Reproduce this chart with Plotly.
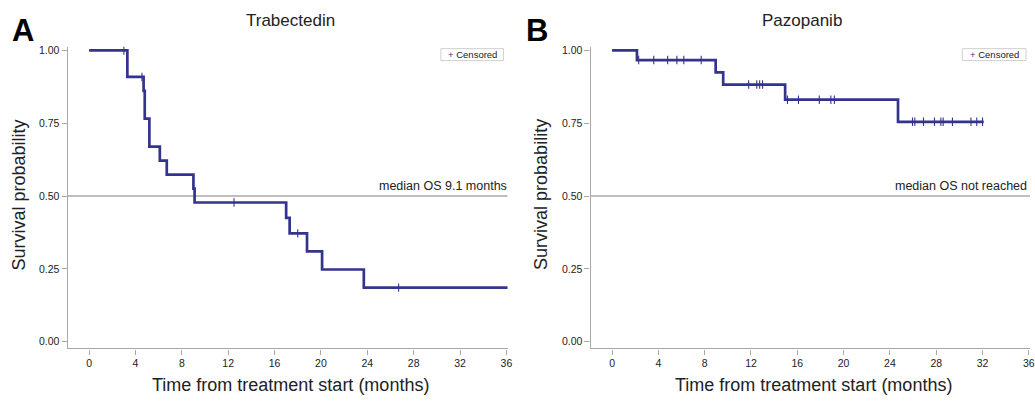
import plotly.graph_objects as go
import numpy as np

# ---------------- data ----------------
# Trabectedin Kaplan-Meier steps
trab_time = [0.0, 3.3, 4.7, 4.8, 5.2, 6.1, 6.7, 9.0, 9.1, 17.0, 17.3, 18.8, 20.1, 23.7]
trab_surv = [1.0, 0.909, 0.861, 0.766, 0.670, 0.622, 0.574, 0.526, 0.478, 0.425, 0.372, 0.310, 0.248, 0.186]
trab_last_followup = 36.4
trab_censor = [3.0, 4.56, 12.5, 18.0, 26.7]

# Pazopanib Kaplan-Meier steps
pazo_time = [0.0, 2.15, 8.95, 9.6, 14.95, 24.7]
pazo_surv = [1.0, 0.967, 0.925, 0.883, 0.831, 0.755]
pazo_last_followup = 32.1
pazo_censor = [2.3, 3.6, 4.8, 5.6, 6.2, 7.7, 11.8, 12.5, 12.75, 13.0,
               15.15, 16.1, 17.9, 18.9, 19.2, 25.95, 26.15, 26.9, 27.85,
               28.4, 28.6, 29.4, 31.0, 31.5, 32.0]

x_ticks = [0, 4, 8, 12, 16, 20, 24, 28, 32, 36]
y_ticks = [0.0, 0.25, 0.5, 0.75, 1.0]

titles = ["Trabectedin", "Pazopanib"]
median_labels = ["median OS 9.1 months", "median OS not reached"]
panel_letters = ["A", "B"]

# ---------------- styling ----------------
LINE = "#34348f"
AXIS = "#a8a8a8"
TXT = "#222222"
FONT = "Liberation Sans, Arial, sans-serif"


def surv_at(times, surv, t):
    idx = np.searchsorted(np.array(times), t, side="right") - 1
    return surv[idx]


fig = go.Figure()

panels = [
    (trab_time, trab_surv, trab_last_followup, trab_censor, "x", "y"),
    (pazo_time, pazo_surv, pazo_last_followup, pazo_censor, "x2", "y2"),
]
for (tt, ss, lf, cens, xa, ya) in panels:
    fig.add_trace(go.Scatter(
        x=list(tt) + [lf], y=list(ss) + [ss[-1]],
        mode="lines", line=dict(color=LINE, width=2.7, shape="hv"),
        xaxis=xa, yaxis=ya, showlegend=False, hoverinfo="skip", cliponaxis=True))
    fig.add_trace(go.Scatter(
        x=cens, y=[surv_at(tt, ss, c) for c in cens],
        mode="markers",
        marker=dict(symbol="line-ns", size=6, color=LINE,
                    line=dict(color=LINE, width=1.1)),
        xaxis=xa, yaxis=ya, showlegend=False, hoverinfo="skip"))

ydom = [0.132, 0.890]
xdomA = [68 / 1035, 510 / 1035]
xdomB = [593.5 / 1035, 1.0]
xrng = [-1.85, 36.1]
yrng = [-0.023, 1.0126]

axis_common = dict(
    showgrid=False, zeroline=False, showline=True, linecolor=AXIS, linewidth=1.3,
    ticks="outside", ticklen=5, tickwidth=1, tickcolor=AXIS,
    tickfont=dict(family=FONT, size=10.5, color=TXT), mirror=False,
)

fig.update_layout(
    width=1035, height=401,
    margin=dict(l=0, r=0, t=0, b=0),
    paper_bgcolor="white", plot_bgcolor="white",
    showlegend=False,
    xaxis=dict(domain=xdomA, range=xrng, tickvals=x_ticks, anchor="y", **axis_common),
    yaxis=dict(domain=ydom, range=yrng, tickvals=y_ticks, tickformat=".2f", anchor="x", **axis_common),
    xaxis2=dict(domain=xdomB, range=xrng, tickvals=x_ticks, anchor="y2", **axis_common),
    yaxis2=dict(domain=ydom, range=yrng, tickvals=y_ticks, tickformat=".2f", anchor="x2", **axis_common),
)

# median reference lines
for xr, yr in [("x domain", "y"), ("x2 domain", "y2")]:
    fig.add_shape(type="line", xref=xr, yref=yr, x0=0, x1=1, y0=0.5, y1=0.5,
                  line=dict(color=AXIS, width=1.5), layer="below")

annos = []
title_x = [292, 806]
letter_x = [23, 540]
ytitle_x = [19, 543]
xtitle_x = [292, 817]
med_right = [511, 1034]
leg_x = [(443, 506), (967, 1031)]
for i in range(2):
    annos.append(dict(text=titles[i], x=title_x[i] / 1035, y=1 - 18 / 401, xref="paper", yref="paper",
                      showarrow=False, xanchor="center", yanchor="middle",
                      font=dict(family=FONT, size=17, color=TXT)))
    annos.append(dict(text="<b>" + panel_letters[i] + "</b>", x=letter_x[i] / 1035, y=1 - 28 / 401,
                      xref="paper", yref="paper", showarrow=False, xanchor="center", yanchor="middle",
                      font=dict(family="Liberation Sans, Arial", size=31, color="black")))
    annos.append(dict(text="Survival probability", x=ytitle_x[i] / 1035, y=1 - 193 / 401,
                      xref="paper", yref="paper", showarrow=False, textangle=-90,
                      xanchor="center", yanchor="middle",
                      font=dict(family=FONT, size=18, color=TXT)))
    annos.append(dict(text="Time from treatment start (months)", x=xtitle_x[i] / 1035, y=1 - 385 / 401,
                      xref="paper", yref="paper", showarrow=False, xanchor="center", yanchor="middle",
                      font=dict(family=FONT, size=18, color=TXT)))
    annos.append(dict(text=median_labels[i], x=med_right[i] / 1035, y=1 - 184 / 401,
                      xref="paper", yref="paper", showarrow=False, xanchor="right", yanchor="middle",
                      font=dict(family=FONT, size=12.5, color=TXT)))
    x0, x1 = leg_x[i]
    fig.add_shape(type="rect", xref="paper", yref="paper",
                  x0=x0 / 1035, x1=x1 / 1035, y0=1 - 58 / 401, y1=1 - 46 / 401,
                  line=dict(color="#d0d0d0", width=1), fillcolor="white")
    annos.append(dict(text="<span style='color:%s'>+</span> Censored" % LINE,
                      x=(x0 + x1) / 2 / 1035, y=1 - 52 / 401,
                      xref="paper", yref="paper", showarrow=False, xanchor="center", yanchor="middle",
                      font=dict(family=FONT, size=9.5, color=TXT)))

fig.update_layout(annotations=annos)
fig.write_html("out.html", config={"displayModeBar": False},
               post_script="document.body.style.margin='0';document.body.style.overflow='hidden';")
